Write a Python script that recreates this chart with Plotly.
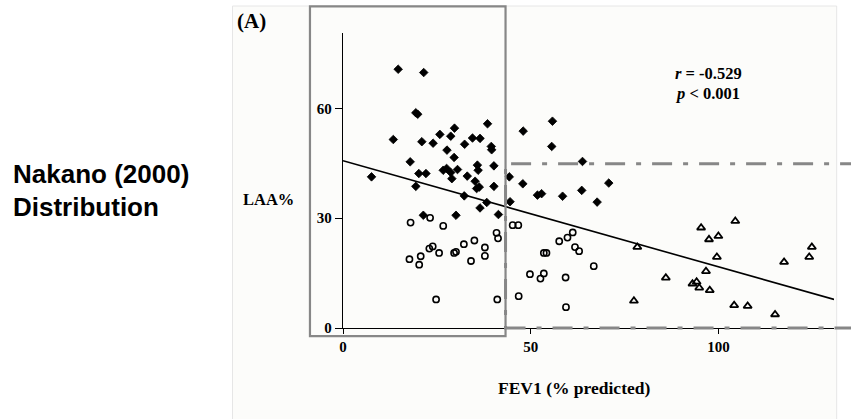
import plotly.graph_objects as go

# ---------------- data ----------------
# Filled diamonds: high LAA% group
dia_fev = [14.7, 21.5, 19.4, 19.9, 13.4, 21.0, 24.0, 25.8, 28.7, 29.7, 32.4, 34.5, 36.5, 38.5,
           27.7, 29.6, 39.5, 39.6, 48.0, 17.9, 20.2, 22.1, 26.7, 27.6, 28.7, 30.5, 29.0, 33.1,
           35.8, 36.0, 35.2, 36.3, 35.6, 40.2, 40.2, 7.6, 19.4, 32.3, 36.5, 38.3, 21.4, 30.1,
           41.4, 55.8, 55.6, 63.8, 44.3, 47.9, 51.8, 52.9, 58.5, 63.6, 70.8, 67.7, 44.5]
dia_laa = [70.7, 69.8, 58.8, 58.4, 51.5, 50.9, 50.5, 52.9, 52.4, 54.6, 50.2, 51.9, 51.8, 55.8,
           48.6, 46.6, 49.6, 48.7, 53.8, 45.4, 42.2, 42.2, 43.1, 43.6, 42.5, 43.3, 40.8, 41.5,
           44.5, 43.1, 40.1, 38.5, 38.1, 44.3, 38.7, 41.3, 38.7, 36.1, 32.8, 34.3, 30.8, 30.8,
           31.0, 56.5, 49.6, 45.5, 41.3, 39.4, 36.3, 36.7, 36.0, 37.6, 39.6, 34.4, 34.5]

# Open circles
cir_fev = [18.0, 23.2, 26.7, 17.7, 20.3, 20.7, 23.0, 23.9, 25.6, 29.6, 30.1, 32.2, 35.0, 34.1,
           37.8, 37.8, 40.9, 41.3, 45.2, 46.7, 24.8, 41.1, 46.8, 49.8, 52.6, 53.5, 53.5, 54.2,
           57.6, 59.8, 61.2, 61.8, 62.9, 59.3, 66.8, 59.4]
cir_laa = [28.8, 30.1, 27.9, 18.8, 17.3, 19.6, 21.7, 22.3, 20.5, 20.5, 20.8, 22.9, 23.9, 18.3,
           22.0, 19.7, 26.0, 24.5, 28.1, 28.1, 7.8, 7.8, 8.7, 14.7, 13.5, 14.9, 20.5, 20.5,
           23.7, 24.7, 26.1, 22.1, 21.0, 13.8, 16.9, 5.7]

# Open triangles
tri_fev = [78.4, 77.5, 86.0, 93.1, 94.2, 94.9, 96.7, 97.7, 95.4, 97.5, 100.0, 99.6, 104.5,
           104.2, 107.8, 115.1, 117.5, 124.2, 124.9]
tri_laa = [22.1, 7.4, 13.7, 12.1, 12.6, 11.0, 15.5, 10.3, 27.4, 24.2, 25.1, 19.4, 29.2,
           6.2, 6.0, 3.7, 18.0, 19.4, 22.1]

# Regression line end points
reg_fev = [0, 130.8]
reg_laa = [45.7, 7.8]

x_ticks = [0, 50, 100]
x_tick_text = ["0", "50", "100"]
y_ticks = [0, 30, 60]
y_tick_text = ["0", "30", "60"]

X_RANGE = [0, 130.8]
Y_RANGE = [0, 80.6]

# highlight boxes in data units
solid_box = dict(x0=-8.8, x1=43.3, y0=-2.2, y1=87.9)
dashdot_box = dict(x0=43.3, x1=137.5, y0=0.0, y1=44.9)

# ---------------- layout geometry ----------------
W, H = 851, 419
ML, MR, MT, MB = 343, 17, 33, 91
PW, PH = W - ML - MR, H - MT - MB


def dx(v):
    return (v - X_RANGE[0]) / (X_RANGE[1] - X_RANGE[0])


def dy(v):
    return (v - Y_RANGE[0]) / (Y_RANGE[1] - Y_RANGE[0])


def pxx(p):
    return (p - ML) / PW


def pxy(p):
    return (H - MB - p) / PH


SERIF = "Liberation Serif, Times New Roman, serif"
SANS = "Liberation Sans, Arial, sans-serif"

fig = go.Figure()

fig.add_trace(go.Scatter(x=reg_fev, y=reg_laa, mode="lines",
                         line=dict(color="black", width=1.6), showlegend=False,
                         hoverinfo="skip", cliponaxis=False))
fig.add_trace(go.Scatter(x=dia_fev, y=dia_laa, mode="markers",
                         marker=dict(symbol="diamond", size=6.6, color="black",
                                     line=dict(width=0.8, color="black")),
                         showlegend=False))
fig.add_trace(go.Scatter(x=cir_fev, y=cir_laa, mode="markers",
                         marker=dict(symbol="circle-open", size=6.2, color="black",
                                     line=dict(width=1.6, color="black")),
                         showlegend=False))
fig.add_trace(go.Scatter(x=tri_fev, y=tri_laa, mode="markers",
                         marker=dict(symbol="triangle-up-open", size=7.2, color="black",
                                     line=dict(width=1.8, color="black")),
                         showlegend=False))

shapes = [
    # page frame of the embedded figure
    dict(type="rect", xref="paper", yref="paper",
         x0=pxx(232.5), x1=pxx(836.7), y0=pxy(430), y1=pxy(6),
         fillcolor="#fcfcfa", line=dict(color="#e6e6e6", width=1), layer="below"),
    # solid gray box
    dict(type="rect", xref="paper", yref="paper",
         x0=dx(solid_box["x0"]), x1=dx(solid_box["x1"]),
         y0=dy(solid_box["y0"]), y1=dy(solid_box["y1"]),
         line=dict(color="#878787", width=2.2), layer="above"),
    # dash-dot box
    dict(type="rect", xref="paper", yref="paper",
         x0=dx(dashdot_box["x0"]), x1=dx(dashdot_box["x1"]),
         y0=dy(dashdot_box["y0"]), y1=dy(dashdot_box["y1"]),
         line=dict(color="#878787", width=3, dash="20px,11px,5px,11px"), layer="above"),
]

annotations = [
    dict(text="Nakano (2000)", x=pxx(12), y=pxy(174), xanchor="left", yanchor="middle",
         font=dict(family=SANS, size=26, color="black", weight="bold")),
    dict(text="Distribution", x=pxx(12), y=pxy(207), xanchor="left", yanchor="middle",
         font=dict(family=SANS, size=26, color="black", weight="bold")),
    dict(text="(A)", x=pxx(236), y=pxy(21), xanchor="left", yanchor="middle",
         font=dict(family=SERIF, size=21, color="black", weight="bold")),
    dict(text="LAA%", x=pxx(242), y=pxy(199), xanchor="left", yanchor="middle",
         font=dict(family=SERIF, size=16.5, color="black", weight="bold")),
    dict(text="FEV1 (% predicted)", x=pxx(574), y=pxy(388), xanchor="center", yanchor="middle",
         font=dict(family=SERIF, size=17.5, color="black", weight="bold")),
    dict(text="<i>r</i> = -0.529", x=pxx(674), y=pxy(73.5), xanchor="left", yanchor="middle",
         font=dict(family=SERIF, size=16.5, color="black", weight="bold")),
    dict(text="<i>p</i> < 0.001", x=pxx(674), y=pxy(93), xanchor="left", yanchor="middle",
         font=dict(family=SERIF, size=16.5, color="black", weight="bold")),
]
for a in annotations:
    a.update(xref="paper", yref="paper", showarrow=False, borderpad=0)

fig.update_layout(
    width=W, height=H,
    margin=dict(l=ML, r=MR, t=MT, b=MB, pad=0),
    paper_bgcolor="white", plot_bgcolor="rgba(0,0,0,0)",
    shapes=shapes, annotations=annotations, showlegend=False,
)
fig.update_xaxes(range=X_RANGE, showgrid=False, zeroline=False, showline=True,
                 linecolor="black", linewidth=1.4, ticks="outside", ticklen=5,
                 tickwidth=1.4, tickcolor="black", tickvals=x_ticks, ticktext=x_tick_text,
                 tickfont=dict(family=SERIF, size=15, color="black", weight="bold"),
                 automargin=False, fixedrange=True)
fig.update_yaxes(range=Y_RANGE, showgrid=False, zeroline=False, showline=True,
                 linecolor="black", linewidth=1.4, ticks="outside", ticklen=7,
                 tickwidth=1.4, tickcolor="black", tickvals=y_ticks, ticktext=y_tick_text,
                 tickfont=dict(family=SERIF, size=15, color="black", weight="bold"),
                 automargin=False, fixedrange=True)

fig.write_html("out.html", config={"displayModeBar": False})
